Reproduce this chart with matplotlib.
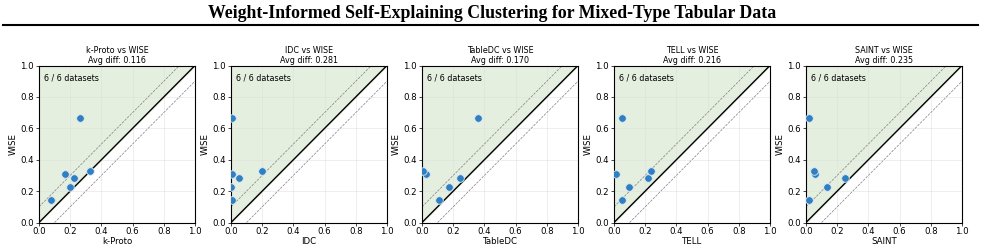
import numpy as np
import matplotlib.pyplot as plt
from matplotlib.lines import Line2D

wise = [0.145, 0.225, 0.31, 0.285, 0.33, 0.665]
baselines = ["k-Proto", "IDC", "TableDC", "TELL", "SAINT"]
base_scores = {
    "k-Proto": [0.08, 0.2, 0.165, 0.225, 0.325, 0.26],
    "IDC": [0.005, 0.0, 0.005, 0.05, 0.2, 0.005],
    "TableDC": [0.11, 0.175, 0.025, 0.245, 0.005, 0.36],
    "TELL": [0.05, 0.095, 0.015, 0.215, 0.235, 0.05],
    "SAINT": [0.02, 0.135, 0.06, 0.25, 0.05, 0.02],
}
avg_diff = [0.116, 0.281, 0.170, 0.216, 0.235]

fig = plt.figure(figsize=(9.85, 2.48), dpi=100)
fig.text(0.5, 0.946, "Weight-Informed Self-Explaining Clustering for Mixed-Type Tabular Data",
         ha="center", va="center", fontsize=12.8, fontweight="bold", family="Liberation Serif")
fig.add_artist(Line2D([0.003, 0.993], [0.899, 0.899], color="black", lw=1.5,
                      transform=fig.transFigure))

lefts = [39, 231, 422, 614, 806]
w = 156
bottom = 248 - 222.5
for i, name in enumerate(baselines):
    ax = fig.add_axes([lefts[i] / 985, bottom / 248, w / 985, 157 / 248])
    xs = np.linspace(0, 1, 50)
    ax.fill_between(xs, xs, 1, color="#e5efe0", zorder=0)
    ax.plot([0, 1], [0, 1], color="black", lw=1.0, zorder=2)
    ax.plot([0, 0.9], [0.1, 1.0], color="grey", lw=0.5, ls="--", zorder=2)
    ax.plot([0.1, 1.0], [0, 0.9], color="grey", lw=0.5, ls="--", zorder=2)
    ax.scatter(base_scores[name], wise, s=30, color="#2f7fc1", edgecolor="#dce9f5",
               linewidth=0.6, zorder=3)
    ax.set_xlim(0, 1)
    ax.set_ylim(0, 1)
    ax.set_xticks(np.arange(0, 1.01, 0.2))
    ax.set_yticks(np.arange(0, 1.01, 0.2))
    ax.grid(True, color="#dddddd", lw=0.5, alpha=0.7)
    ax.tick_params(labelsize=6.2, length=2.5, width=0.5, pad=1)
    ax.set_xlabel(name, fontsize=6.2, labelpad=0.5)
    ax.set_ylabel("WISE", fontsize=6.2, labelpad=2)
    ax.set_title(f"{name} vs WISE\nAvg diff: {avg_diff[i]:.3f}", fontsize=5.8,
                 pad=2, linespacing=1.1)
    ax.text(0.03, 0.95, "6 / 6 datasets", transform=ax.transAxes, fontsize=5.8,
            va="top", ha="left")
    for s in ax.spines.values():
        s.set_linewidth(0.8)

fig.savefig("out.png", dpi=100)
